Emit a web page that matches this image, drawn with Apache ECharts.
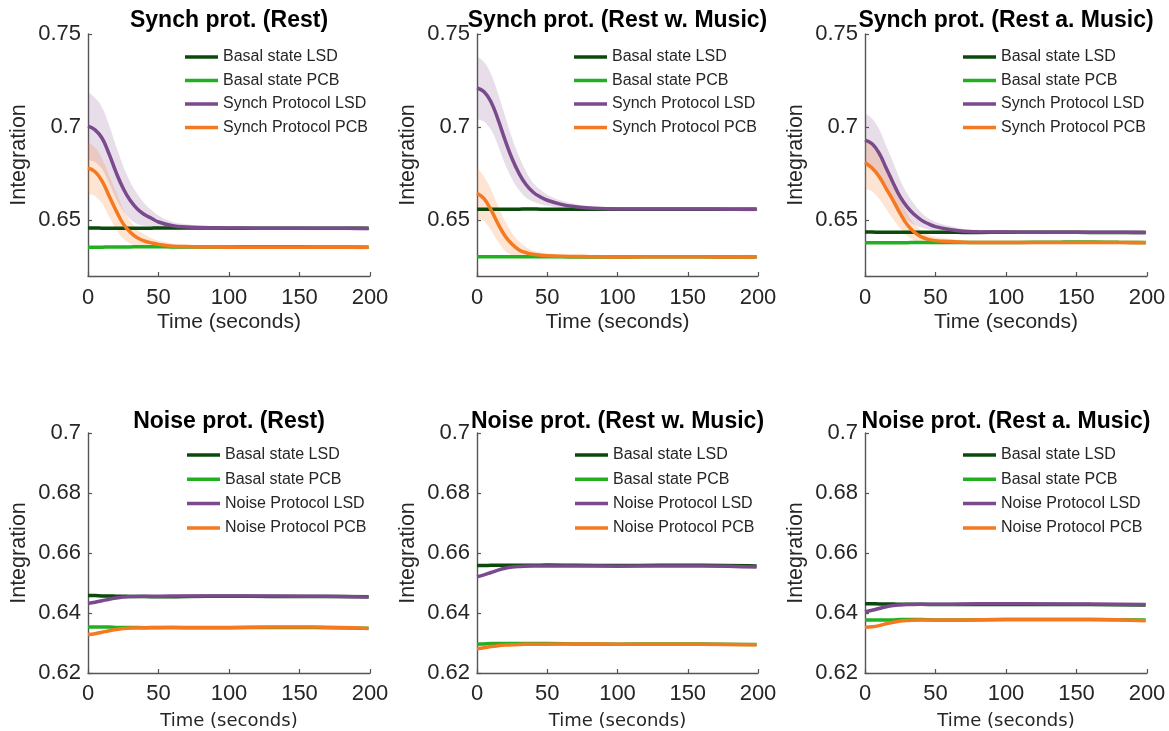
<!DOCTYPE html>
<html><head><meta charset="utf-8">
<script src="https://cdn.jsdelivr.net/npm/echarts@6/dist/echarts.min.js"></script>
<style>html,body{margin:0;padding:0;background:#fff}#c{width:1169px;height:731px}</style>
</head><body><div id="c"></div><script>
// ---------- tick labels ----------
const X_TICKS = [0, 50, 100, 150, 200];
const Y_TICKS_SYNCH = [0.65, 0.7, 0.75];
const Y_TICKS_NOISE = [0.62, 0.64, 0.66, 0.68, 0.7];

// ---------- time samples (seconds) ----------
const T_SYNCH = [0,5,10,15,20,25,30,35,40,45,50,60,70,80,100,120,140,160,180,199];
const T_NOISE = [0,5,10,15,20,25,30,40,50,70,100,130,160,199];

// ---------- Synch prot. (Rest) ----------
const sr_basalLSD = [0.6458,0.6458,0.6457,0.6457,0.6456,0.6456,0.6457,0.6457,0.6456,0.6457,0.6458,0.6458,0.6458,0.6458,0.6457,0.6457,0.6457,0.6456,0.6456,0.6456];
const sr_basalPCB = [0.6355,0.6355,0.6355,0.6356,0.6356,0.6356,0.6356,0.6357,0.6357,0.6357,0.6357,0.6356,0.6356,0.6356,0.6356,0.6357,0.6357,0.6356,0.6356,0.6355];
const sr_protoLSD = [0.7005,0.6985,0.694,0.6855,0.6755,0.667,0.6605,0.656,0.653,0.651,0.649,0.647,0.6463,0.646,0.6458,0.6457,0.6457,0.6456,0.6456,0.6455];
const sr_protoPCB = [0.678,0.676,0.671,0.663,0.655,0.648,0.6435,0.6405,0.6388,0.6378,0.637,0.636,0.6358,0.6356,0.6355,0.6355,0.6355,0.6355,0.6355,0.6354];
const sr_spreadLSD = [0.0175,0.0172,0.0165,0.0155,0.014,0.012,0.010,0.008,0.006,0.0045,0.0035,0.002,0.0015,0.001,0.001,0.001,0.001,0.001,0.001,0.001];
const sr_spreadPCB = [0.013,0.013,0.012,0.011,0.010,0.008,0.006,0.0045,0.0035,0.0025,0.002,0.0015,0.001,0.001,0.001,0.001,0.001,0.001,0.001,0.001];

// ---------- Synch prot. (Rest w. Music) ----------
const sm_basalLSD = [0.6559,0.6559,0.6558,0.6558,0.6559,0.6559,0.6559,0.6560,0.6560,0.6559,0.6559,0.6559,0.6558,0.6558,0.6559,0.6559,0.6559,0.6558,0.6558,0.6558];
const sm_basalPCB = [0.6303,0.6303,0.6304,0.6304,0.6304,0.6304,0.6304,0.6304,0.6303,0.6303,0.6303,0.6303,0.6302,0.6302,0.6302,0.6303,0.6303,0.6303,0.6302,0.6302];
const sm_protoLSD = [0.721,0.719,0.7135,0.704,0.693,0.683,0.675,0.669,0.665,0.6625,0.6607,0.6585,0.6572,0.6565,0.656,0.656,0.656,0.656,0.6559,0.6558];
const sm_protoPCB = [0.6645,0.6615,0.6555,0.648,0.6415,0.637,0.634,0.6325,0.6317,0.6312,0.6309,0.6306,0.6305,0.6304,0.6302,0.6303,0.6303,0.6303,0.6302,0.6302];
const sm_spreadLSD = [0.016,0.016,0.015,0.014,0.013,0.011,0.009,0.007,0.005,0.004,0.003,0.002,0.0015,0.001,0.001,0.001,0.001,0.001,0.001,0.001];
const sm_spreadPCB = [0.0125,0.012,0.011,0.0095,0.008,0.006,0.0045,0.003,0.002,0.0015,0.0012,0.001,0.001,0.001,0.001,0.001,0.001,0.001,0.001,0.001];

// ---------- Synch prot. (Rest a. Music) ----------
const sa_basalLSD = [0.6436,0.6436,0.6435,0.6435,0.6435,0.6435,0.6435,0.6435,0.6435,0.6435,0.6435,0.6435,0.6434,0.6434,0.6435,0.6435,0.6435,0.6434,0.6434,0.6434];
const sa_basalPCB = [0.6379,0.6379,0.6379,0.6379,0.6379,0.6379,0.6379,0.6380,0.6380,0.6380,0.6380,0.6380,0.6380,0.6380,0.6380,0.6381,0.6382,0.6383,0.6381,0.6380];
const sa_protoLSD = [0.693,0.691,0.686,0.678,0.670,0.6625,0.657,0.653,0.650,0.648,0.6465,0.645,0.644,0.6438,0.6436,0.6435,0.6435,0.6435,0.6435,0.6434];
const sa_protoPCB = [0.681,0.678,0.6735,0.667,0.6605,0.6535,0.6475,0.6435,0.641,0.6397,0.639,0.6385,0.6381,0.638,0.638,0.638,0.638,0.638,0.638,0.6379];
const sa_spreadLSD = [0.0135,0.0135,0.013,0.012,0.011,0.009,0.007,0.0055,0.004,0.003,0.0025,0.0018,0.0013,0.001,0.001,0.001,0.001,0.001,0.001,0.001];
const sa_spreadPCB = [0.013,0.0125,0.012,0.011,0.010,0.008,0.006,0.0045,0.0035,0.0025,0.002,0.0015,0.001,0.001,0.001,0.001,0.001,0.001,0.001,0.001];

// ---------- Noise prot. (Rest) ----------
const nr_basalLSD = [0.6458,0.6458,0.6457,0.6457,0.6456,0.6456,0.6455,0.6455,0.6454,0.6455,0.6456,0.6455,0.6455,0.6454];
const nr_basalPCB = [0.6353,0.6353,0.6353,0.6353,0.6352,0.6352,0.6352,0.6351,0.6352,0.6351,0.6351,0.6352,0.6352,0.6349];
const nr_protoLSD = [0.6432,0.6436,0.6441,0.6446,0.6450,0.6453,0.6455,0.6456,0.6456,0.6457,0.6457,0.6457,0.6456,0.6453];
const nr_protoPCB = [0.6328,0.6331,0.6336,0.6341,0.6345,0.6348,0.6350,0.6351,0.6351,0.6352,0.6352,0.6353,0.6353,0.6348];

// ---------- Noise prot. (Rest w. Music) ----------
const nm_basalLSD = [0.6558,0.6558,0.6559,0.6559,0.6559,0.6559,0.6559,0.6559,0.6560,0.6559,0.6558,0.6559,0.6559,0.6557];
const nm_basalPCB = [0.6296,0.6297,0.6298,0.6298,0.6298,0.6298,0.6298,0.6298,0.6298,0.6297,0.6296,0.6297,0.6297,0.6295];
const nm_protoLSD = [0.6521,0.6527,0.6535,0.6543,0.6549,0.6553,0.6555,0.6557,0.6557,0.6557,0.6556,0.6557,0.6557,0.6553];
const nm_protoPCB = [0.6281,0.6284,0.6288,0.6291,0.6293,0.6294,0.6295,0.6296,0.6296,0.6297,0.6296,0.6296,0.6296,0.6294];

// ---------- Noise prot. (Rest a. Music) ----------
const na_basalLSD = [0.6431,0.6431,0.6430,0.6430,0.6430,0.6429,0.6429,0.6429,0.6428,0.6428,0.6428,0.6429,0.6428,0.6427];
const na_basalPCB = [0.6377,0.6377,0.6377,0.6377,0.6377,0.6378,0.6378,0.6378,0.6377,0.6377,0.6378,0.6378,0.6378,0.6377];
const na_protoLSD = [0.6404,0.6409,0.6415,0.6421,0.6425,0.6427,0.6428,0.6429,0.6429,0.6430,0.6431,0.6430,0.6430,0.6428];
const na_protoPCB = [0.6352,0.6354,0.6358,0.6364,0.6369,0.6373,0.6375,0.6377,0.6377,0.6377,0.6378,0.6378,0.6378,0.6374];

// ---------- layout / style ----------
const FONT = '"Liberation Sans", Arial, Helvetica, sans-serif';
const COL = {bLSD:'#0b4a0b', bPCB:'#22b022', pLSD:'#7b4a8c', pPCB:'#f47a22'};
const BAND = {pLSD:'rgba(123,74,140,0.18)', pPCB:'rgba(244,122,34,0.20)'};
const cols = [{left:88,width:282},{left:477,width:281},{left:865,width:282}];
const rows = [
  {top:34,height:242,ymin:0.62,ymax:0.75,yticks:Y_TICKS_SYNCH,titleTop:9,legTop:49,legGap:7.5,xnameGap:36,xnameFont:21,xnameFamily:FONT,labelMargin:11},
  {top:433,height:241,ymin:0.62,ymax:0.70,yticks:Y_TICKS_NOISE,titleTop:410,legTop:447,legGap:8.3,xnameGap:39,xnameFont:18,xnameFamily:'"DejaVu Sans", sans-serif',labelMargin:10}
];
const legLeft = [[185,574,963],[187,575,963]];

const panels = [
  {title:'Synch prot. (Rest)', row:0, col:0, t:T_SYNCH, bl:sr_basalLSD, bp:sr_basalPCB, pl:sr_protoLSD, pp:sr_protoPCB, sl:sr_spreadLSD, sp:sr_spreadPCB, proto:'Synch Protocol'},
  {title:'Synch prot. (Rest w. Music)', row:0, col:1, t:T_SYNCH, bl:sm_basalLSD, bp:sm_basalPCB, pl:sm_protoLSD, pp:sm_protoPCB, sl:sm_spreadLSD, sp:sm_spreadPCB, proto:'Synch Protocol'},
  {title:'Synch prot. (Rest a. Music)', row:0, col:2, t:T_SYNCH, bl:sa_basalLSD, bp:sa_basalPCB, pl:sa_protoLSD, pp:sa_protoPCB, sl:sa_spreadLSD, sp:sa_spreadPCB, proto:'Synch Protocol'},
  {title:'Noise prot. (Rest)', row:1, col:0, t:T_NOISE, bl:nr_basalLSD, bp:nr_basalPCB, pl:nr_protoLSD, pp:nr_protoPCB, proto:'Noise Protocol'},
  {title:'Noise prot. (Rest w. Music)', row:1, col:1, t:T_NOISE, bl:nm_basalLSD, bp:nm_basalPCB, pl:nm_protoLSD, pp:nm_protoPCB, proto:'Noise Protocol'},
  {title:'Noise prot. (Rest a. Music)', row:1, col:2, t:T_NOISE, bl:na_basalLSD, bp:na_basalPCB, pl:na_protoLSD, pp:na_protoPCB, proto:'Noise Protocol'}
];

const pairs = (t, v) => t.map((x, i) => [x, v[i]]);
const AX = '#555555';
const option = {animation:false, backgroundColor:'#fff', grid:[], xAxis:[], yAxis:[], series:[], title:[], legend:[]};

panels.forEach((p, i) => {
  const c = cols[p.col], r = rows[p.row];
  option.grid.push({left:c.left, top:r.top, width:c.width, height:r.height});
  option.title.push({text:p.title, left:c.left + c.width/2, top:r.titleTop, textAlign:'center', padding:0,
    textStyle:{fontSize:23, fontWeight:'bold', color:'#000', fontFamily:FONT}});
  option.xAxis.push({type:'value', gridIndex:i, min:0, max:200, interval:50,
    axisLine:{show:true, onZero:false, lineStyle:{color:AX, width:1.4}},
    axisTick:{show:true, inside:true, length:4, customValues:X_TICKS, lineStyle:{color:AX, width:1.2}},
    splitLine:{show:false},
    axisLabel:{customValues:X_TICKS, fontSize:22, color:'#262626', fontFamily:FONT, margin:r.labelMargin},
    name:'Time (seconds)', nameLocation:'middle', nameGap:r.xnameGap,
    nameTextStyle:{fontSize:r.xnameFont, color:'#262626', fontFamily:r.xnameFamily}});
  option.yAxis.push({type:'value', gridIndex:i, min:r.ymin, max:r.ymax,
    axisLine:{show:true, onZero:false, lineStyle:{color:AX, width:1.4}},
    axisTick:{show:true, inside:true, length:4, customValues:r.yticks, lineStyle:{color:AX, width:1.2}},
    splitLine:{show:false},
    axisLabel:{customValues:r.yticks, fontSize:22, color:'#262626', fontFamily:FONT, margin:7},
    name:'Integration', nameLocation:'middle', nameGap:58, nameRotate:90,
    nameTextStyle:{fontSize:21.5, color:'#262626', fontFamily:FONT}});

  const names = ['Basal state LSD', 'Basal state PCB', p.proto + ' LSD', p.proto + ' PCB'];
  option.legend.push({data:names, orient:'vertical', left:legLeft[p.row][p.col], top:r.legTop,
    padding:0, itemGap:r.legGap, itemWidth:33, itemHeight:3.5, icon:'rect', selectedMode:false,
    textStyle:{fontSize:16, color:'#262626', fontFamily:FONT}});

  // shaded spread bands (mean ± spread), drawn through the axes' coordinate system
  if (p.sl) {
    [[p.pl, p.sl, BAND.pLSD], [p.pp, p.sp, BAND.pPCB]].forEach(([m, s, col]) => {
      option.series.push({type:'custom', xAxisIndex:i, yAxisIndex:i, silent:true, clip:true, z:1,
        data:[[p.t[0], m[0]]],
        renderItem:(params, api) => {
          const up = p.t.map((x, j) => api.coord([x, m[j] + s[j]]));
          const lo = p.t.map((x, j) => api.coord([x, m[j] - s[j]])).reverse();
          return {type:'polygon', shape:{points:up.concat(lo), smooth:0.35}, style:{fill:col}};
        }});
    });
  }
  const mk = (name, vals, color, sm) => ({type:'line', name, xAxisIndex:i, yAxisIndex:i, symbol:'none',
    smooth:sm, data:pairs(p.t, vals), color, lineStyle:{color, width:3.5}, z:3});
  option.series.push(mk(names[0], p.bl, COL.bLSD, 0.3));
  option.series.push(mk(names[1], p.bp, COL.bPCB, 0.3));
  option.series.push(mk(names[2], p.pl, COL.pLSD, 0.45));
  option.series.push(mk(names[3], p.pp, COL.pPCB, 0.45));
});

const chart = echarts.init(document.getElementById('c'), null, {renderer:'canvas'});
chart.setOption(option);
</script></body></html>
